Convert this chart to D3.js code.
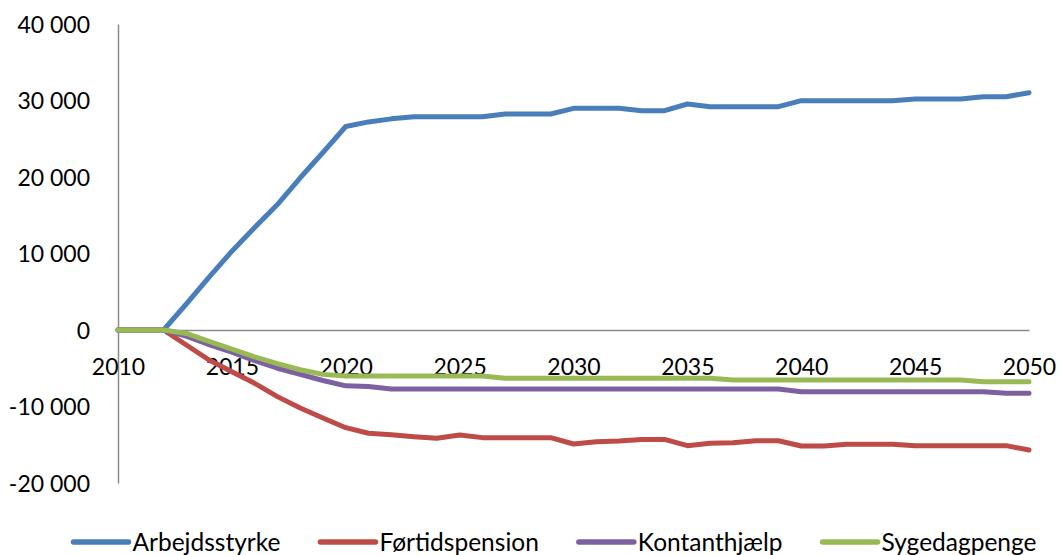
<!DOCTYPE html>
<html>
<head>
<meta charset="utf-8">
<script src="https://cdn.jsdelivr.net/npm/d3@7"></script>
<style>
  html, body { margin: 0; padding: 0; background: #fff; }
  svg { display: block; font-family: Lato, "Open Sans", sans-serif; }
</style>
</head>
<body>
<svg id="chart" width="1061" height="555"></svg>
<script>
const years = [2010,2011,2012,2013,2014,2015,2016,2017,2018,2019,2020,
  2021,2022,2023,2024,2025,2026,2027,2028,2029,2030,
  2031,2032,2033,2034,2035,2036,2037,2038,2039,2040,
  2041,2042,2043,2044,2045,2046,2047,2048,2049,2050];

const arbejdsstyrke = [0,0,0,3400,6900,10300,13400,16400,19900,23200,26600,
  27200,27600,27880,27880,27880,27880,28230,28230,28230,28980,
  28980,28980,28670,28670,29540,29190,29190,29190,29190,29980,
  29980,29980,29980,29980,30200,30200,30200,30500,30500,31020];

const fortidspension = [0,0,0,-1960,-3920,-5450,-6970,-8710,-10200,-11500,-12770,
  -13500,-13700,-13950,-14150,-13730,-14070,-14070,-14070,-14070,-14900,
  -14600,-14500,-14300,-14300,-15120,-14800,-14730,-14470,-14470,-15160,
  -15160,-14950,-14950,-14950,-15120,-15120,-15120,-15120,-15120,-15690];

const kontanthjaelp = [0,0,0,-800,-1900,-2900,-4000,-5000,-5800,-6600,-7300,
  -7400,-7700,-7700,-7700,-7700,-7700,-7700,-7700,-7700,-7700,
  -7700,-7700,-7700,-7700,-7700,-7700,-7700,-7700,-7700,-8060,
  -8060,-8060,-8060,-8060,-8060,-8060,-8060,-8060,-8280,-8280];

const sygedagpenge = [0,0,0,-450,-1500,-2500,-3500,-4400,-5200,-5800,-6000,
  -6000,-6000,-6000,-6000,-6000,-6000,-6300,-6300,-6300,-6300,
  -6300,-6300,-6300,-6300,-6300,-6300,-6540,-6540,-6540,-6540,
  -6540,-6540,-6540,-6540,-6540,-6540,-6540,-6750,-6750,-6750];

const seriesNames = ["Arbejdsstyrke","Førtidspension","Kontanthjælp","Sygedagpenge"];
const seriesColors = ["#4a7ebb","#be4b48","#7d60a0","#98b954"];
const seriesValues = [arbejdsstyrke, fortidspension, kontanthjaelp, sygedagpenge];

const yTicks = [-20000,-10000,0,10000,20000,30000,40000];
const xTicks = [2010,2015,2020,2025,2030,2035,2040,2045,2050];

const svg = d3.select("#chart");
const x = d3.scaleLinear().domain([2010, 2050]).range([118, 1029]);
const y = d3.scaleLinear().domain([-20000, 40000]).range([483, 24]);

const locale = d3.formatLocale({decimal: ",", thousands: " ", grouping: [3], currency: ["", ""], minus: "-"});
const fmt = locale.format(",d");

const FS = 23;
const axisColor = "#8c8c8c";

// Y axis
const yAxis = svg.append("g")
  .attr("transform", `translate(${x(2010)},0)`)
  .call(d3.axisLeft(y).tickValues(yTicks).tickFormat(fmt).tickSize(0).tickSizeOuter(0).tickPadding(28));
yAxis.select(".domain").attr("stroke", axisColor).attr("stroke-width", 1.5);
yAxis.selectAll("text").attr("font-size", FS).attr("font-family", "Lato, sans-serif").attr("fill", "#000").attr("dy", "0.35em");

// X axis at zero line
const xAxis = svg.append("g")
  .attr("transform", `translate(0,${y(0)})`)
  .call(d3.axisBottom(x).tickValues(xTicks).tickFormat(d3.format("d")).tickSize(0).tickSizeOuter(0));
xAxis.select(".domain").attr("stroke", axisColor).attr("stroke-width", 1.5);
xAxis.selectAll("text").attr("font-size", FS).attr("font-family", "Lato, sans-serif").attr("fill", "#000")
  .attr("y", 37).attr("dy", "0.35em");

// Lines
const line = d3.line().x((d, i) => x(years[i])).y(d => y(d));
seriesValues.forEach((vals, k) => {
  svg.append("path")
    .datum(vals)
    .attr("d", line)
    .attr("fill", "none")
    .attr("stroke", seriesColors[k])
    .attr("stroke-width", 5)
    .attr("stroke-linejoin", "round")
    .attr("stroke-linecap", "round");
});

// Legend
const legend = svg.append("g");
let cx = 0;
seriesNames.forEach((name, k) => {
  const g = legend.append("g").attr("transform", `translate(${cx},0)`);
  g.append("line").attr("x1", 0).attr("x2", 55).attr("y1", 0).attr("y2", 0)
    .attr("stroke", seriesColors[k]).attr("stroke-width", 5.5).attr("stroke-linecap", "round");
  const t = g.append("text").attr("x", 59).attr("y", 0).attr("dy", "0.35em")
    .attr("font-size", 24.5).attr("fill", "#000").text(name);
  const w = t.node().getComputedTextLength();
  cx += 59 + w + 40;
});
const totalW = cx - 40;
legend.attr("transform", `translate(${555 - totalW / 2},542)`);
</script>
</body>
</html>
